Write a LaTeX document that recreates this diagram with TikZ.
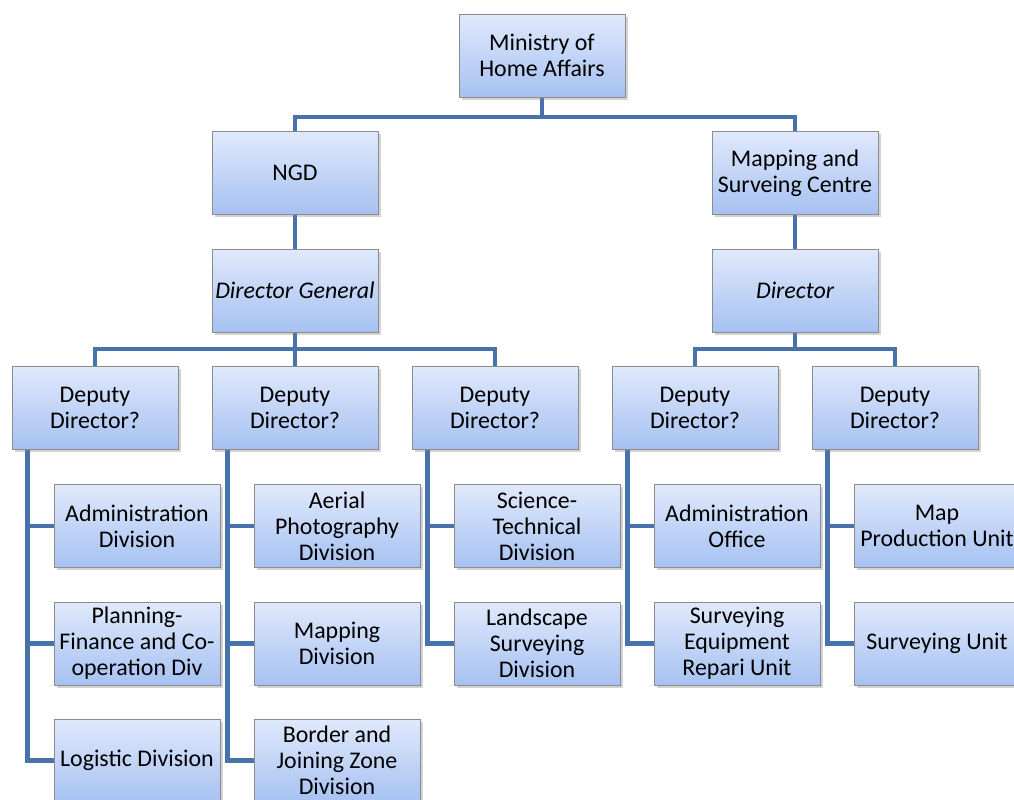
\documentclass[tikz,border=0pt]{standalone}
\usepackage{fontspec}
\setmainfont{Carlito}
\usetikzlibrary{positioning,shadows,backgrounds}
\definecolor{boxtop}{RGB}{224,233,252}
\definecolor{boxbot}{RGB}{166,193,241}
\definecolor{boxline}{RGB}{140,140,140}
\definecolor{linkblue}{RGB}{72,114,170}

\begin{document}
\begin{tikzpicture}[x=0.02cm,y=-0.02cm,
			bloc/.style={
				draw=boxline,
				rectangle,
				align=center,
				inner sep=1pt,
				minimum width=3.32cm,
				minimum height=1.66cm,
				top color=boxtop,
				bottom color=boxbot,
				drop shadow={shadow xshift=1.5pt,shadow yshift=-1.5pt,opacity=.35},
				font=\fontsize{13.6}{14.8}\selectfont,
			},
			link/.style={
				draw=linkblue,
				line width=2.8pt,
			}
		]
		\useasboundingbox (0,0) rectangle (1014,800);
		\clip (0,0) rectangle (1014,800);

		\node[bloc] (mha) at (542,55.5) {Ministry of\\Home Affairs};

		\node[bloc] (ngd) at (295,173) {NGD};
		\node[bloc] (msc) at (795,173) {Mapping and\\Surveing Centre};

		\node[bloc] (dg) at (295,290.5) {\itshape Director General};
		\node[bloc] (dir) at (795,290.5) {\itshape Director};

		\node[bloc] (dd1) at (95,407.5) {Deputy\\Director?};
		\node[bloc] (dd2) at (295,407.5) {Deputy\\Director?};
		\node[bloc] (dd3) at (495,407.5) {Deputy\\Director?};
		\node[bloc] (dd4) at (695,407.5) {Deputy\\Director?};
		\node[bloc] (dd5) at (895,407.5) {Deputy\\Director?};

		\node[bloc] (adm) at (137,526) {Administration\\Division};
		\node[bloc] (pfc) at (137,643.5) {Planning-\\Finance and Co-\\operation Div};
		\node[bloc] (log) at (137,760.5) {Logistic Division};

		\node[bloc] (aer) at (337,526) {Aerial\\Photography\\Division};
		\node[bloc] (map) at (337,643.5) {Mapping\\Division};
		\node[bloc] (bjz) at (337,760.5) {Border and\\Joining Zone\\Division};

		\node[bloc] (sci) at (537,526) {Science-\\Technical\\Division};
		\node[bloc] (lsd) at (537,643.5) {Landscape\\Surveying\\Division};

		\node[bloc] (ado) at (737,526) {Administration\\Office};
		\node[bloc] (ser) at (737,643.5) {Surveying\\Equipment\\Repari Unit};

		\node[bloc] (mpu) at (937,526) {Map\\Production Unit};
		\node[bloc] (svu) at (937,643.5) {Surveying Unit};

		% junctions
		\coordinate (j0) at (542,117);
		\coordinate (j1) at (295,349);
		\coordinate (j2) at (795,349);
		\coordinate (t1) at ([xshift=.32cm]dd1.south west);
		\coordinate (t2) at ([xshift=.32cm]dd2.south west);
		\coordinate (t3) at ([xshift=.32cm]dd3.south west);
		\coordinate (t4) at ([xshift=.32cm]dd4.south west);
		\coordinate (t5) at ([xshift=.32cm]dd5.south west);

		\begin{scope}[on background layer]
		\draw[link] (mha.south) -- (j0);
		\draw[link] (ngd.north) -- (ngd.north |- j0) -- (msc.north |- j0) -- (msc.north);
		\draw[link] (ngd) -- (dg);
		\draw[link] (msc) -- (dir);

		\draw[link] (dg.south) -- (j1);
		\draw[link] (dd1.north) -- (dd1.north |- j1) -- (dd3.north |- j1) -- (dd3.north);
		\draw[link] (j1) -- (dd2.north);
		\draw[link] (dir.south) -- (j2);
		\draw[link] (dd4.north) -- (dd4.north |- j2) -- (dd5.north |- j2) -- (dd5.north);

		\draw[link] (t1) |- (log.west);
		\draw[link] (adm.west -| t1) -- (adm.west);
		\draw[link] (pfc.west -| t1) -- (pfc.west);

		\draw[link] (t2) |- (bjz.west);
		\draw[link] (aer.west -| t2) -- (aer.west);
		\draw[link] (map.west -| t2) -- (map.west);

		\draw[link] (t3) |- (lsd.west);
		\draw[link] (sci.west -| t3) -- (sci.west);

		\draw[link] (t4) |- (ser.west);
		\draw[link] (ado.west -| t4) -- (ado.west);

		\draw[link] (t5) |- (svu.west);
		\draw[link] (mpu.west -| t5) -- (mpu.west);
		\end{scope}

	\end{tikzpicture}
\end{document}
